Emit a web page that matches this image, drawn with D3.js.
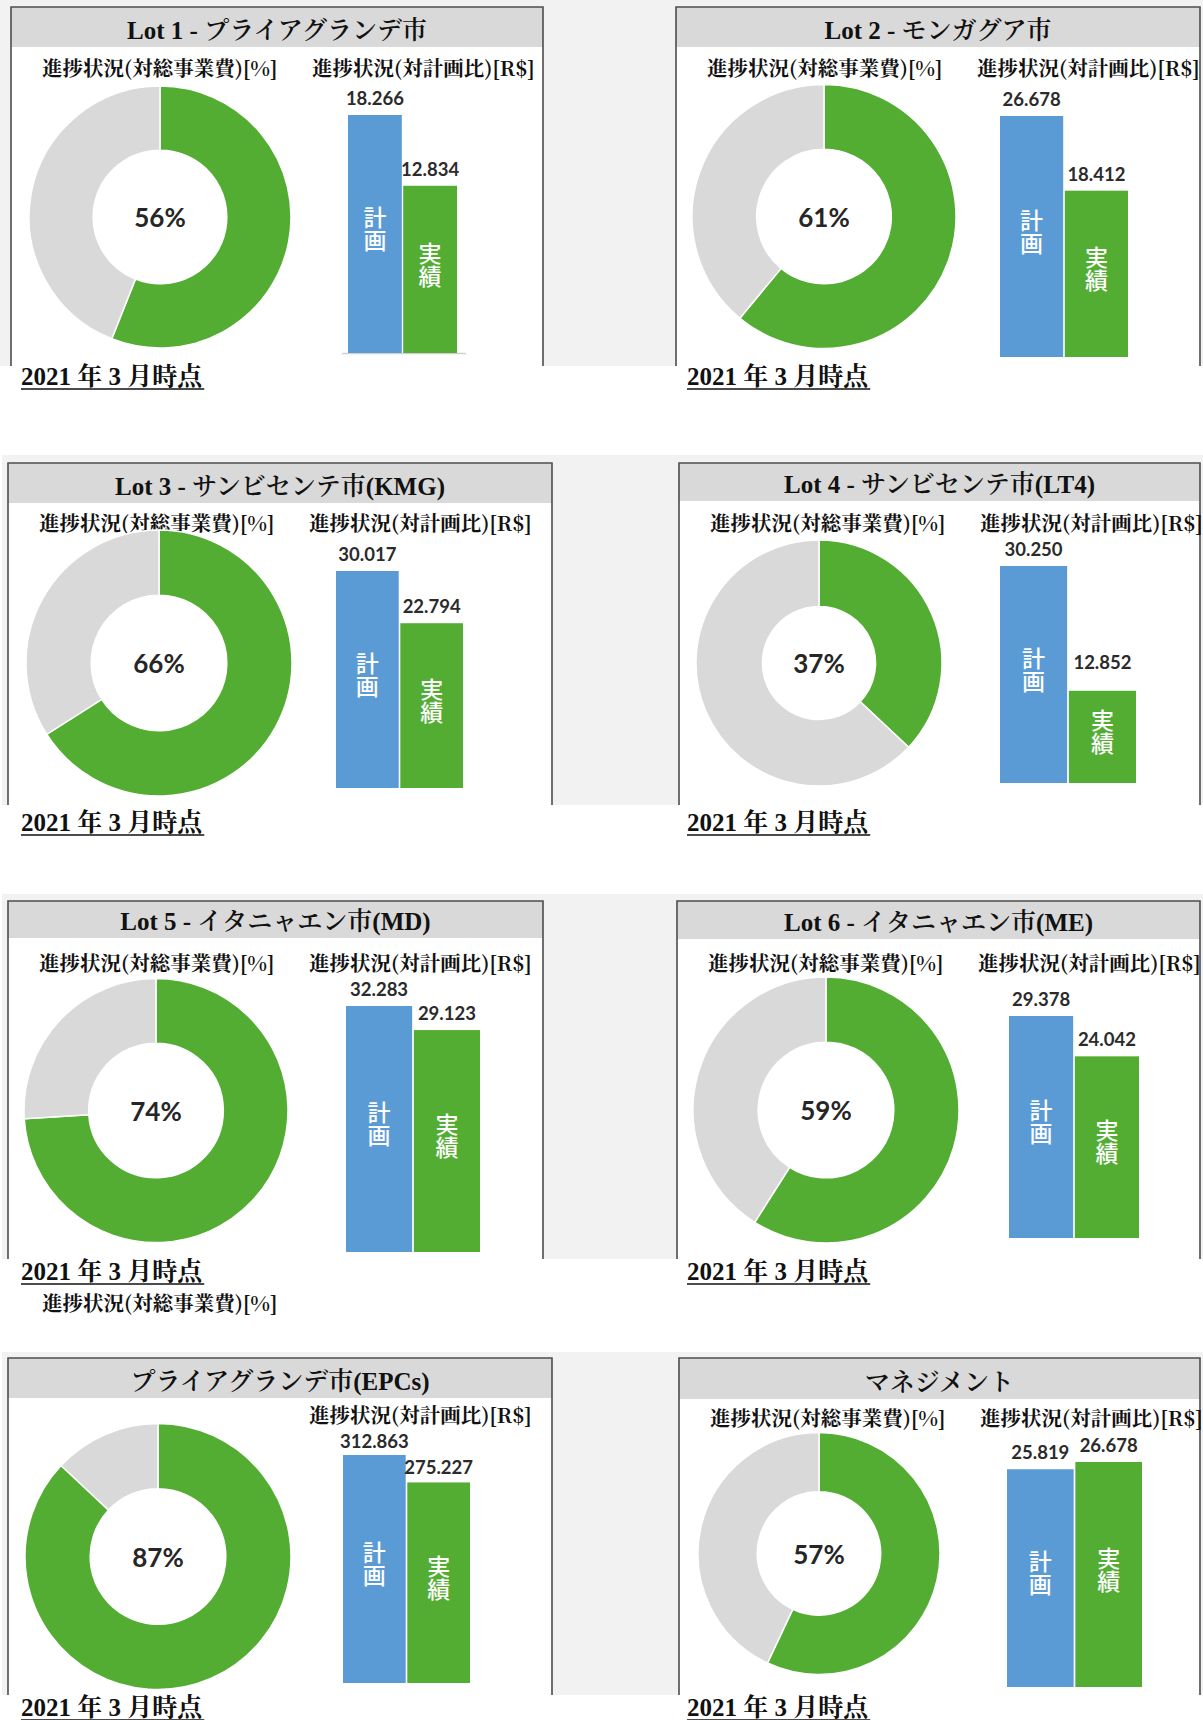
<!DOCTYPE html>
<html><head><meta charset="utf-8">
<script src="https://cdn.jsdelivr.net/npm/d3@7/dist/d3.min.js"></script>
<style>
html,body{margin:0;padding:0;background:#fff;}
svg{display:block;}
</style></head>
<body>
<svg id="chart" width="1203" height="1720"></svg>
<script>
// ---------------- data ----------------
const panelTitles = [
  "Lot 1 - プライアグランデ市",
  "Lot 2 - モンガグア市",
  "Lot 3 - サンビセンテ市(KMG)",
  "Lot 4 - サンビセンテ市(LT4)",
  "Lot 5 - イタニャエン市(MD)",
  "Lot 6 - イタニャエン市(ME)",
  "プライアグランデ市(EPCs)",
  "マネジメント"
];
const progressPct  = [56, 61, 66, 37, 74, 59, 87, 57];
const planValues   = [18.266, 26.678, 30.017, 30.250, 32.283, 29.378, 312.863, 25.819];
const actualValues = [12.834, 18.412, 22.794, 12.852, 29.123, 24.042, 275.227, 26.678];
const barCategories = ["計画", "実績"];
const donutSubtitle = "進捗状況(対総事業費)[%]";
const barSubtitle   = "進捗状況(対計画比)[R$]";
const dateLabel     = "2021 年 3 月時点";

// ---------------- layout (positions only) ----------------
const bands = [
  {x0:0, y0:0,    y1:366,  dateY:385},
  {x0:2, y0:455,  y1:805,  dateY:831},
  {x0:2, y0:894,  y1:1259, dateY:1280},
  {x0:2, y0:1352, y1:1695, dateY:1716}
];
const layout = [
  {x0:11, y0:7,    x1:543,  tb:47,   subY:67,   cx:160, cy:217,    r:131, ir:0.51, bx0:348,  bx1:457,  base:353,  top:115,  row:0, axis:true},
  {x0:676,y0:7,    x1:1200, tb:47,   subY:67,   cx:824, cy:216.5,  r:132, ir:0.51, bx0:1000, bx1:1128, base:357,  top:116,  row:0},
  {x0:8,  y0:463,  x1:552,  tb:503,  subY:522,  cx:159, cy:663,    r:133, ir:0.51, bx0:336,  bx1:463,  base:788,  top:571,  row:1},
  {x0:679,y0:463,  x1:1200, tb:501,  subY:522,  cx:819, cy:663,    r:123, ir:0.46, bx0:1000, bx1:1136, base:783,  top:566,  row:1, lift:[0,12]},
  {x0:8,  y0:901,  x1:543,  tb:938,  subY:962,  cx:156, cy:1110.5, r:132, ir:0.51, bx0:346,  bx1:480,  base:1252, top:1006, row:2},
  {x0:677,y0:901,  x1:1200, tb:939,  subY:962,  cx:826, cy:1110,   r:133, ir:0.51, bx0:1009, bx1:1139, base:1238, top:1016, row:2},
  {x0:8,  y0:1358, x1:552,  tb:1398, subY:1414, cx:158, cy:1556.5, r:133, ir:0.51, bx0:343,  bx1:470,  base:1683, top:1455, row:3, noDonutSub:true, lift:[-3,-2]},
  {x0:679,y0:1358, x1:1200, tb:1399, subY:1417, cx:819, cy:1553.5, r:121, ir:0.51, bx0:1007, bx1:1142, base:1687, top:1462, row:3}
];

const GREEN = "#53ad33", GRAY = "#d9d9d9", BLUE = "#5b9bd5";
const SERIF = "'Liberation Serif','Noto Serif CJK JP','Noto Sans CJK JP',serif";
const MINCHO = "'Noto Serif CJK JP','Noto Sans CJK JP',serif";
const GOTHIC = "'Noto Sans CJK JP',sans-serif";
const NUM = "Lato,'Open Sans',sans-serif";
const fmt = d3.format(".3f");

const svg = d3.select("#chart");
svg.append("rect").attr("width",1203).attr("height",1720).attr("fill","#fff");

// gray bands
svg.selectAll("rect.band").data(bands).join("rect").attr("class","band")
  .attr("x", d=>d.x0).attr("y", d=>d.y0).attr("width", d=>1203-d.x0).attr("height", d=>d.y1-d.y0)
  .attr("fill","#f2f2f2");

layout.forEach((L, i) => {
  const band = bands[L.row];
  const g = svg.append("g");
  // panel body
  g.append("rect").attr("x",L.x0).attr("y",L.y0).attr("width",L.x1-L.x0).attr("height",band.y1-L.y0).attr("fill","#fff");
  g.append("rect").attr("x",L.x0).attr("y",L.y0).attr("width",L.x1-L.x0).attr("height",L.tb-L.y0).attr("fill","#d9d9d9");
  g.append("path")
    .attr("d", `M${L.x0},${band.y1}V${L.y0}H${L.x1}V${band.y1}`)
    .attr("fill","none").attr("stroke","#4d4d4d").attr("stroke-width",1.6);
  // title
  g.append("text").attr("x",(L.x0+L.x1)/2).attr("y",L.tb-8)
    .attr("text-anchor","middle").attr("font-family",SERIF).attr("font-weight",600).attr("font-size",25)
    .attr("fill","#111").text(panelTitles[i]);
  // subtitles
  if (!L.noDonutSub) {
    g.append("text").attr("x",L.x0+31).attr("y",L.subY).attr("dominant-baseline","central")
      .attr("font-family",MINCHO).attr("font-weight",700).attr("font-size",20.5).attr("fill","#111").text(donutSubtitle);
  }
  g.append("text").attr("x",L.x0+301).attr("y",L.subY).attr("dominant-baseline","central")
    .attr("font-family",MINCHO).attr("font-weight",700).attr("font-size",20.5).attr("fill","#111").text(barSubtitle);

  // donut
  const pie = d3.pie().sort(null).value(d=>d.v)([{k:"done",v:progressPct[i]},{k:"rest",v:100-progressPct[i]}]);
  const arc = d3.arc().innerRadius(L.r*L.ir).outerRadius(L.r);
  const dg = g.append("g").attr("transform",`translate(${L.cx},${L.cy})`);
  dg.selectAll("path").data(pie).join("path")
    .attr("d",arc).attr("fill",d=>d.data.k==="done"?GREEN:GRAY)
    .attr("stroke","#fff").attr("stroke-width",1.5);
  dg.append("text").attr("text-anchor","middle").attr("dominant-baseline","central")
    .attr("font-family",NUM).attr("font-weight",700).attr("font-size",26).attr("fill","#262626")
    .text(progressPct[i] + "%");

  // bars
  const vals = [planValues[i], actualValues[i]];
  const x = d3.scaleBand().domain(barCategories).range([L.bx0, L.bx1]).paddingInner(0.025);
  const y = d3.scaleLinear().domain([0, d3.max(vals)]).range([L.base, L.top]);
  const bd = barCategories.map((c,j)=>({c, v:vals[j], j}));
  if (L.axis) {
    g.append("line").attr("x1",L.bx0-6).attr("x2",L.bx1+9).attr("y1",L.base+0.5).attr("y2",L.base+0.5)
      .attr("stroke","#d0d0d0").attr("stroke-width",1.5);
  }
  g.selectAll("rect.bar").data(bd).join("rect").attr("class","bar")
    .attr("x",d=>x(d.c)).attr("width",x.bandwidth())
    .attr("y",d=>y(d.v)).attr("height",d=>y(0)-y(d.v))
    .attr("fill",d=>d.j===0?BLUE:GREEN);
  g.selectAll("text.val").data(bd).join("text").attr("class","val")
    .attr("x",d=>x(d.c)+x.bandwidth()/2)
    .attr("y",d=>y(d.v)-17-((L.lift||[0,0])[d.j]))
    .attr("text-anchor","middle").attr("dominant-baseline","central")
    .attr("font-family",NUM).attr("font-weight",700).attr("font-size",18.5).attr("fill","#2b2b2b")
    .text(d=>fmt(d.v));
  // vertical category labels
  g.selectAll("text.cat").data(bd).join("text").attr("class","cat")
    .attr("x",d=>x(d.c)+x.bandwidth()/2)
    .attr("y",d=>(y(d.v)+y(0))/2 - 5)
    .attr("writing-mode","vertical-rl")
    .attr("text-anchor","middle")
    .attr("font-family",GOTHIC).attr("font-weight",500).attr("font-size",23).attr("fill","#fff")
    .text(d=>d.c);

  // date label
  const dx = L.x0 < 300 ? 21 : 687;
  const dt = svg.append("text").attr("x",dx).attr("y",band.dateY)
    .attr("font-family",SERIF).attr("font-weight",700).attr("font-size",25).attr("fill","#111").text(dateLabel);
  const bb = dt.node().getBBox();
  svg.append("line").attr("x1",bb.x).attr("x2",bb.x+bb.width).attr("y1",band.dateY+4).attr("y2",band.dateY+4)
    .attr("stroke","#111").attr("stroke-width",1.6);
});

// stray subtitle below Lot 5
svg.append("text").attr("x",42).attr("y",1302).attr("dominant-baseline","central")
  .attr("font-family",MINCHO).attr("font-weight",700).attr("font-size",20.5).attr("fill","#111").text(donutSubtitle);
</script>
</body></html>
